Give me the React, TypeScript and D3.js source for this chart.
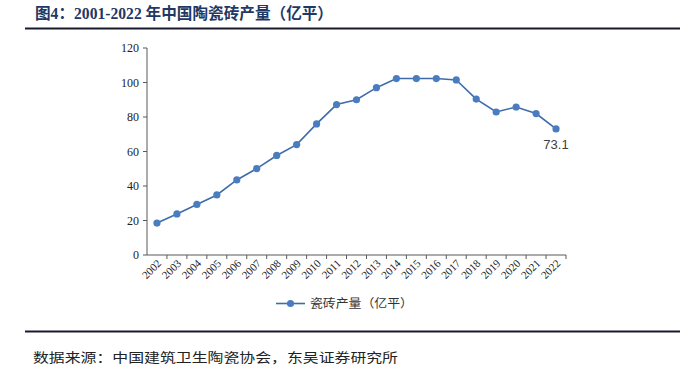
import React from "react";
import * as d3 from "d3";

const years = ["2002","2003","2004","2005","2006","2007","2008","2009","2010","2011","2012","2013","2014","2015","2016","2017","2018","2019","2020","2021","2022"];
const output = [18.5,23.8,29.3,34.8,43.5,50.1,57.7,64.0,76.0,87.2,90.0,97.0,102.3,102.3,102.3,101.5,90.4,82.9,85.8,82.0,73.1];
const yTicks = [0,20,40,60,80,100,120];

const W = 680, H = 369;
const plot = { left: 147, right: 566, top: 48, bottom: 255 };

export default function App() {
  const x = d3.scaleBand<string>().domain(years).range([plot.left, plot.right]);
  const y = d3.scaleLinear().domain([0, 120]).range([plot.bottom, plot.top]);
  const cx = (d: string) => (x(d) as number) + x.bandwidth() / 2;
  const line = d3.line<number>().x((_, i) => cx(years[i])).y(d => y(d));
  const lineColor = "#3e6cab";
  const markColor = "#4a7dc0";
  const serif = "'Liberation Serif', 'Times New Roman', serif";
  const cjk = "'Liberation Serif', 'Noto Sans CJK SC', serif";
  const last = output.length - 1;
  return (
    <svg width={W} height={H} style={{ position: "absolute", left: 0, top: 0, background: "#fff" }}>
      <rect width={W} height={H} fill="#fff" />
      <text x={35} y={19} fontFamily={cjk} fontWeight="bold" fontSize={16} fill="#1f3864" textLength={298} lengthAdjust="spacingAndGlyphs">图4：2001-2022 年中国陶瓷砖产量（亿平）</text>
      <line x1={25} x2={680} y1={28.5} y2={28.5} stroke="#1a1a2e" strokeWidth={2} />
      {/* y axis */}
      <line x1={plot.left} x2={plot.left} y1={plot.top} y2={plot.bottom} stroke="#595959" strokeWidth={1} />
      {yTicks.map(t => (
        <g key={t}>
          <line x1={plot.left - 4} x2={plot.left} y1={y(t)} y2={y(t)} stroke="#595959" />
          <text x={plot.left - 8} y={y(t) + 4} textAnchor="end" fontFamily={serif} fontSize={12} fill="#222">{t}</text>
        </g>
      ))}
      {/* x axis */}
      <line x1={plot.left} x2={plot.right} y1={plot.bottom} y2={plot.bottom} stroke="#595959" />
      {years.map(d => (
        <line key={"t" + d} x1={(x(d) as number) + x.bandwidth()} x2={(x(d) as number) + x.bandwidth()} y1={plot.bottom} y2={plot.bottom + 4} stroke="#595959" />
      ))}
      {years.map(d => (
        <text key={"l" + d} transform={`translate(${cx(d) + 5},${plot.bottom + 9}) rotate(-45)`} textAnchor="end" fontFamily={serif} fontSize={11} fill="#222">{d}</text>
      ))}
      <path d={line(output) || ""} fill="none" stroke={lineColor} strokeWidth={1.6} />
      {output.map((v, i) => (
        <circle key={"c" + i} cx={cx(years[i])} cy={y(v)} r={3.6} fill={markColor} />
      ))}
      <text x={cx(years[last])} y={y(output[last]) + 20} textAnchor="middle" fontFamily="'Liberation Sans', 'Open Sans', sans-serif" fontSize={13} fill="#404040">{output[last].toFixed(1)}</text>
      {/* legend */}
      <line x1={276} x2={305} y1={303.5} y2={303.5} stroke={lineColor} strokeWidth={1.6} />
      <circle cx={290.5} cy={303.5} r={3.6} fill={markColor} />
      <text x={310} y={308} fontFamily="'Noto Sans CJK SC', sans-serif" fontSize={12} fill="#333" textLength={103} lengthAdjust="spacingAndGlyphs">瓷砖产量（亿平）</text>
      <line x1={25} x2={680} y1={331.5} y2={331.5} stroke="#1a1a2e" strokeWidth={2} />
      <text x={33} y={362} fontFamily="'Noto Sans CJK SC', sans-serif" fontSize={13} fill="#222" textLength={365} lengthAdjust="spacingAndGlyphs">数据来源：中国建筑卫生陶瓷协会，东吴证券研究所</text>
    </svg>
  );
}
